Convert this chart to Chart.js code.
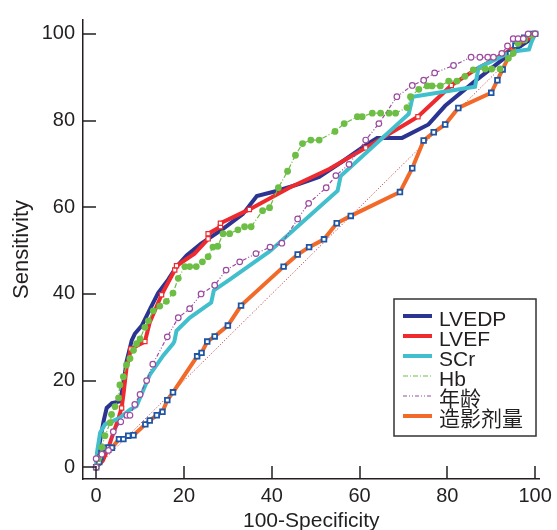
<!DOCTYPE html>
<html>
<head>
<meta charset="utf-8">
<script src="https://cdn.jsdelivr.net/npm/chart.js@4.4.0/dist/chart.umd.min.js"></script>
<style>
  html, body { margin: 0; padding: 0; background: #fff; }
  #wrap { width: 557px; height: 530px; }
</style>
</head>
<body>
<div id="wrap"><canvas id="roc"></canvas></div>
<script>
// ROC curves: x = 100-Specificity, y = Sensitivity
const xTicks = [0, 20, 40, 60, 80, 100];
const yTicks = [0, 20, 40, 60, 80, 100];

const lvedpX = [0, 0.5, 1.7, 2.4, 3.6, 5.4, 6.2, 6.9, 8.1, 8.8, 10.4, 12.2, 14.1, 16.4, 18.3, 20.6, 23.9, 28.9, 33.4, 36.6, 41.3, 46.3, 50.8, 56, 61.4, 64, 69.7, 75.7, 79.5, 86.3, 91.6, 95.4, 99.2, 99.3, 100];
const lvedpY = [0, 4, 10.7, 13.7, 14.8, 15.2, 19, 24.3, 29.3, 30.8, 32.7, 36.4, 40.2, 43.3, 46.3, 48.9, 51.6, 55, 58.4, 62.6, 63.8, 65.4, 67, 70.5, 74.3, 76, 76, 79.1, 83.4, 89.1, 93.3, 96.3, 98.9, 100, 100];

const lvefX = [0, 1.5, 2.8, 3.6, 5, 5.8, 6.2, 6.9, 7.9, 11.1, 12.2, 14.9, 17.9, 18.3, 22.4, 25.5, 25.5, 28.3, 28.3, 34.9, 44, 53.1, 61.4, 71.2, 73.3, 80.9, 86.3, 93.1, 97.7, 99.2, 100];
const lvefY = [0, 1.5, 4.5, 7, 11, 13.7, 16.7, 22.8, 27.3, 29, 33.4, 39.8, 45.5, 46.5, 49.3, 52.7, 53.9, 55.5, 56.3, 59.5, 64.5, 68.8, 73.7, 79.6, 80.9, 88.1, 91.7, 95.5, 98.5, 99.3, 100];
const lvefMarked = [5, 8, 9, 11, 12, 13, 15, 16, 17, 18, 19, 22, 24, 25];

const scrX = [0, 0.2, 0.9, 2, 3.9, 5.4, 7.7, 9.2, 12.2, 15.3, 17.5, 17.8, 18.3, 21.3, 26.2, 26.8, 30.4, 39.5, 55, 55.7, 71.2, 72.1, 86.3, 87.1, 94.6, 98.6, 99.2, 100];
const scrY = [0, 3.5, 8, 9.9, 10.7, 11.4, 13.3, 14.1, 21.3, 25.8, 28.5, 29, 31.5, 34.5, 38, 40.8, 43.3, 49.8, 63.8, 67.2, 81.5, 85.5, 87.8, 92.2, 95.9, 96.4, 98.2, 100];

const hbX = [0, 0.5, 1.3, 2, 3.2, 3.5, 4.3, 5.1, 5.4, 6.2, 6.9, 7.7, 8.5, 9.2, 10, 11.1, 11.9, 13, 14.5, 16, 17.5, 18.7, 20.2, 21.3, 22.8, 24.2, 25.5, 26.6, 27.7, 28.9, 30.4, 32.3, 33.8, 35.3, 37.9, 39.5, 41.5, 43.6, 45.4, 47, 48.9, 50.8, 54.4, 56.5, 59.5, 60.6, 62.9, 64.8, 66.7, 68.2, 70.8, 71.6, 73.5, 75.4, 76.5, 78.4, 80.3, 82.2, 84, 85.9, 88.6, 90.1, 92, 93.9, 95, 96.1, 97.6, 99.2, 100];
const hbY = [0, 2, 4.6, 7.3, 10.3, 12.2, 14, 16, 19, 20.9, 23.6, 25.1, 27, 28.5, 29.6, 32.3, 33.8, 36.1, 37.2, 38.3, 40.2, 43.6, 46.3, 46.3, 46.3, 47.4, 48.6, 50.8, 51, 53.9, 53.9, 54.8, 55.5, 55.5, 59.2, 59.9, 64.5, 68.3, 72, 74.7, 75.5, 75.5, 77.5, 79.3, 80.9, 80.9, 81.7, 81.7, 81.7, 81.7, 83, 85.5, 87.2, 88, 88, 88, 89.1, 89.1, 90.2, 91.7, 91.9, 91.9, 91.9, 94.4, 95.5, 97.8, 98.6, 99.7, 100];

const ageX = [0, 0, 1.3, 2.8, 3.9, 5.6, 7, 7.7, 8.8, 10, 11.5, 12.9, 16.2, 18.7, 21.3, 23.9, 27, 29.6, 32.7, 36.4, 39.6, 42.3, 45.9, 48.4, 52.4, 54.6, 57.6, 61.4, 64.4, 68.5, 72, 74.6, 77.1, 81.4, 85.4, 87.4, 89.2, 90.5, 92.4, 93.7, 95, 96.1, 97.3, 98.4, 100];
const ageY = [0, 2, 3, 3.9, 8.2, 10.5, 12, 12, 14.5, 16.8, 20, 23.8, 30.1, 34.5, 36.6, 40, 42, 45.5, 47.4, 49.3, 50.8, 51.7, 57.3, 60.9, 64.5, 67.3, 69.9, 75.5, 79.3, 85.5, 88.1, 89.3, 91, 92.7, 94.6, 94.6, 94.6, 94.6, 95.5, 97.2, 98.9, 98.9, 98.9, 100, 100];

const contrastX = [0, 0.7, 1, 1.2, 1.9, 2.8, 3.6, 5.2, 6.2, 7.3, 8.5, 11.2, 12.2, 13.8, 15.1, 16.2, 17.5, 23, 24, 25.3, 27, 30, 33, 42.7, 45.9, 48.5, 51.9, 54.8, 58, 69.2, 72, 74.6, 76.9, 79.5, 82.5, 90, 91.4, 92.6, 94.3, 95.5, 97.5, 99.5, 100];
const contrastY = [0, 1.2, 2.3, 3.3, 4.5, 4.5, 4.5, 6.5, 6.5, 7.3, 7.4, 9.9, 10.8, 12, 12.8, 15.5, 17.3, 25.6, 26.4, 29, 30.2, 32.7, 37.3, 46.3, 49.1, 50.8, 52.6, 56.3, 58, 63.5, 69, 75.4, 77.3, 79.1, 82.9, 86.4, 89.3, 91.8, 95.5, 97.3, 99.1, 100, 100];

const diagX = [0, 100];
const diagY = [0, 100];

const axisColor = '#231F20';
const fontFamily = "'Liberation Sans', Arial, 'Noto Sans CJK SC', sans-serif";

function pts(xs, ys) {
  return xs.map((x, i) => ({ x: x, y: ys[i] }));
}

const datasets = [
  { label: 'LVEDP', data: pts(lvedpX, lvedpY), borderColor: '#2B3591', borderWidth: 4, pointRadius: 0, order: 6 },
  {
    label: 'LVEF', data: pts(lvefX, lvefY), borderColor: '#EE2A2E', borderWidth: 4, order: 5,
    pointRadius: ctx => lvefMarked.includes(ctx.dataIndex) ? 3 : 0,
    pointStyle: 'rect', pointBorderColor: '#EE2A2E', pointBackgroundColor: '#fff', pointBorderWidth: 1.2
  },
  { label: 'SCr', data: pts(scrX, scrY), borderColor: '#41BFCC', borderWidth: 4, pointRadius: 0, order: 4 },
  {
    label: 'Hb', data: pts(hbX, hbY), borderColor: '#6DBE45', borderWidth: 1.2, borderDash: [5, 2, 1, 2], order: 2,
    pointRadius: 3.4, pointStyle: 'circle', pointBackgroundColor: '#6DBE45', pointBorderColor: '#6DBE45', pointBorderWidth: 0
  },
  {
    label: '年龄', data: pts(ageX, ageY), borderColor: '#9B4A9F', borderWidth: 1.2, borderDash: [4, 2, 1, 2, 1, 2], order: 1,
    pointRadius: 2.8, pointStyle: 'circle', pointBackgroundColor: '#fff', pointBorderColor: '#9B4A9F', pointBorderWidth: 1.2
  },
  {
    label: '造影剂量', data: pts(contrastX, contrastY), borderColor: '#F26A2A', borderWidth: 4, order: 3,
    pointRadius: 3.3, pointStyle: 'rect', pointBackgroundColor: '#fff', pointBorderColor: '#1E56A6', pointBorderWidth: 1.8
  },
  { label: 'ref', data: pts(diagX, diagY), borderColor: '#C0272D', borderWidth: 1, borderDash: [1, 2], pointRadius: 0, order: 7 }
];

// tick marks pointing into the plot
const inwardTicks = {
  id: 'inwardTicks',
  afterDraw(chart) {
    const { ctx, chartArea, scales } = chart;
    ctx.save();
    ctx.strokeStyle = axisColor;
    ctx.lineWidth = 1.5;
    ctx.beginPath();
    xTicks.forEach(v => {
      const px = Math.round(scales.x.getPixelForValue(v));
      ctx.moveTo(px, chartArea.bottom);
      ctx.lineTo(px, chartArea.bottom - 13);
    });
    yTicks.forEach(v => {
      const py = Math.round(scales.y.getPixelForValue(v));
      ctx.moveTo(chartArea.left, py);
      ctx.lineTo(chartArea.left + 13, py);
    });
    ctx.stroke();
    ctx.restore();
  }
};

// boxed legend in the lower right corner
const boxLegend = {
  id: 'boxLegend',
  afterDraw(chart) {
    const { ctx } = chart;
    const bx = 394, by = 299, bw = 142, bh = 137;
    ctx.save();
    ctx.fillStyle = '#fff';
    ctx.fillRect(bx, by, bw, bh);
    ctx.strokeStyle = '#333';
    ctx.lineWidth = 1.5;
    ctx.strokeRect(bx, by, bw, bh);
    ctx.font = '21px ' + fontFamily;
    ctx.textBaseline = 'alphabetic';
    ctx.fillStyle = axisColor;
    chart.data.datasets.filter(d => d.label !== 'ref').forEach((d, i) => {
      const rowY = by + 17 + i * 20;
      ctx.beginPath();
      ctx.strokeStyle = d.borderColor;
      ctx.lineWidth = d.borderWidth;
      ctx.setLineDash(d.borderDash || []);
      ctx.moveTo(bx + 9, rowY);
      ctx.lineTo(bx + 38, rowY);
      ctx.stroke();
      ctx.setLineDash([]);
      ctx.fillText(d.label, bx + 45, rowY + 10);
    });
    ctx.restore();
  }
};

new Chart(document.getElementById('roc'), {
  type: 'scatter',
  data: { datasets: datasets },
  options: {
    responsive: true,
    maintainAspectRatio: false,
    animation: false,
    showLine: true,
    layout: { padding: { top: 13, right: 16, left: 0, bottom: 0 } },
    elements: { line: { tension: 0, fill: false } },
    plugins: { legend: { display: false }, tooltip: { enabled: false } },
    scales: {
      x: {
        type: 'linear', min: -3, max: 101,
        afterBuildTicks: s => { s.ticks = xTicks.map(v => ({ value: v })); },
        afterFit: s => { s.height = 51; },
        grid: { display: false, drawTicks: false },
        border: { display: true, color: axisColor, width: 1.5 },
        ticks: { color: axisColor, padding: 5, maxRotation: 0, font: { family: fontFamily, size: 20 } },
        title: { display: true, text: '100-Specificity', color: axisColor, padding: { top: 0, bottom: -2 }, font: { family: fontFamily, size: 21, lineHeight: 1 } }
      },
      y: {
        type: 'linear', min: -2.7, max: 103.2,
        afterBuildTicks: s => { s.ticks = yTicks.map(v => ({ value: v })); },
        afterFit: s => { s.width = 83; },
        grid: { display: false, drawTicks: false },
        border: { display: true, color: axisColor, width: 1.5 },
        ticks: { color: axisColor, padding: 8, font: { family: fontFamily, size: 20 } },
        title: { display: true, text: 'Sensitivity', color: axisColor, padding: { top: 11, bottom: 0 }, font: { family: fontFamily, size: 22, lineHeight: 1 } }
      }
    }
  },
  plugins: [inwardTicks, boxLegend]
});
</script>
</body>
</html>
